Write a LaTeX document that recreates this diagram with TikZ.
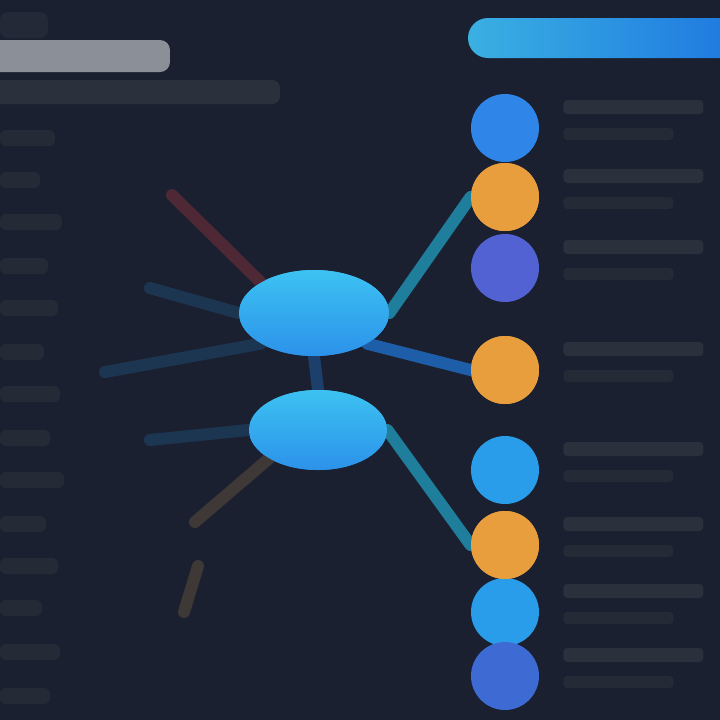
\documentclass[tikz,border=0pt]{standalone}
\usepackage{tikz}
\usetikzlibrary{positioning, shapes.geometric}

\definecolor{bgdark}{HTML}{1B2030}
\definecolor{bartitle}{HTML}{8A8F98}
\definecolor{barsub}{HTML}{2B303D}
\definecolor{barfaint}{HTML}{252A37}
\definecolor{barcyan}{HTML}{3AB0E2}
\definecolor{barblue}{HTML}{1E78E0}
\definecolor{dotblue}{HTML}{2F86E8}
\definecolor{dotsky}{HTML}{2A9DEA}
\definecolor{dotorange}{HTML}{E99E3E}
\definecolor{dotindigo}{HTML}{5262D2}
\definecolor{dotroyal}{HTML}{3E6AD4}
\definecolor{hubcyan}{HTML}{3CC2F2}
\definecolor{hubblue}{HTML}{2C92EA}
\definecolor{linkteal}{HTML}{1F7E9C}
\definecolor{linkblue}{HTML}{1E5EA8}
\definecolor{linknavy}{HTML}{1C3652}
\definecolor{linkred}{HTML}{4E2835}
\definecolor{linkbrown}{HTML}{3E3836}

\begin{document}
\begin{tikzpicture}[
        x=0.5pt, y=-0.5pt,
        dot/.style={circle, minimum size=34pt, inner sep=0pt},
        hub/.style={ellipse, inner sep=0pt, top color=hubcyan, bottom color=hubblue},
        link/.style={line width=6pt, line cap=round}
      ]
      \useasboundingbox (0,0) rectangle (720,720);
      \fill[bgdark] (0,0) rectangle (720,720);

      % header on the left
      \fill[barsub, opacity=0.6, rounded corners=4pt] (0,12) rectangle (48,38);
      \fill[bartitle, rounded corners=5pt] (-10,40) rectangle (170,72);
      \fill[barsub, rounded corners=4pt] (-10,80) rectangle (280,104);

      % faint list on the left
      \foreach \y/\w in {130/55, 172/40, 214/62, 258/48, 300/58, 344/44, 386/60, 430/50, 472/64, 516/46, 558/58, 600/42, 644/60, 688/50}
        \fill[barfaint, rounded corners=3pt] (0,\y) rectangle (\w,\y+16);

      % heading bar on the right
      \shade[left color=barcyan, right color=barblue, rounded corners=10pt] (468,18) rectangle (740,58);

      % hubs
      \node[hub, minimum width=75pt, minimum height=43pt] (hubA) at (314,313) {};
      \node[hub, minimum width=69pt, minimum height=40pt] (hubB) at (318,430) {};

      % dots on the right
      \node[dot, fill=dotblue]   (d1) at (505,128) {};
      \node[dot, fill=dotorange] (d2) at (505,197) {};
      \node[dot, fill=dotindigo] (d3) at (505,268) {};
      \node[dot, fill=dotorange] (d4) at (505,370) {};
      \node[dot, fill=dotsky]    (d5) at (505,470) {};
      \node[dot, fill=dotorange] (d6) at (505,545) {};
      \node[dot, fill=dotsky]    (d7) at (505,612) {};
      \node[dot, fill=dotroyal]  (d8) at (505,676) {};

      % text bars beside the dots
      \foreach \n in {1,...,8} {
        \fill[barsub, rounded corners=2pt] ([xshift=12pt,yshift=7pt]d\n.east) rectangle ++(140,-14);
        \fill[barfaint, rounded corners=2pt] ([xshift=12pt,yshift=-6pt]d\n.east) rectangle ++(110,-12);
      }

      % loose ends on the left
      \coordinate (r1) at (172,195);
      \coordinate (n1) at (150,288);
      \coordinate (n2) at (105,372);
      \coordinate (n3) at (150,440);
      \coordinate (b1) at (195,522);
      \coordinate (b2) at (198,566);
      \coordinate (b3) at (184,612);

      % connectors
      \draw[link, linkteal] (hubA.east) -- (d2.west);
      \draw[link, linkblue] (hubA.south east) -- (d4.west);
      \draw[link, linkteal] (hubB.east) -- (d6.west);
      \draw[link, linkblue, opacity=0.5] (hubA.south) -- (hubB.north);
      \draw[link, linkred] (r1) -- (hubA.north west);
      \draw[link, linknavy] (n1) -- (hubA.west);
      \draw[link, linknavy] (n2) -- (hubA.south west);
      \draw[link, linknavy] (n3) -- (hubB.west);
      \draw[link, linkbrown] (hubB.south west) -- (b1);
      \draw[link, linkbrown] (b2) -- (b3);

      % hubs and dots again, over the connectors
      \node[hub, minimum width=75pt, minimum height=43pt] at (hubA) {};
      \node[hub, minimum width=69pt, minimum height=40pt] at (hubB) {};
      \foreach \n in {2,4,6}
        \node[dot, fill=dotorange] at (d\n) {};

\end{tikzpicture}
\end{document}
